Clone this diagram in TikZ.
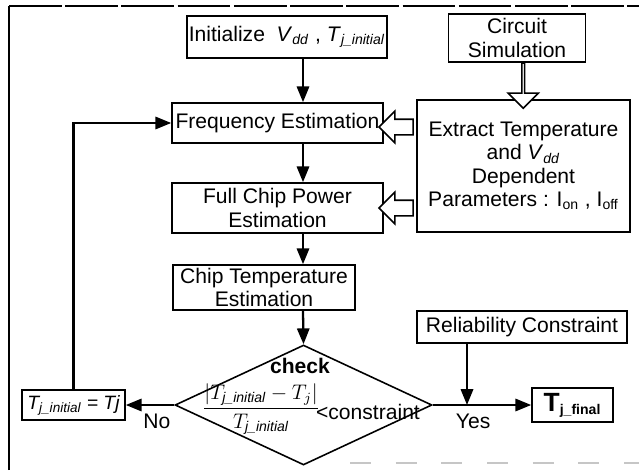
\documentclass[tikz,border=0pt]{standalone}
\usepackage{amsmath}
\usepackage{fontspec}
\setmainfont{Liberation Sans}
\usetikzlibrary{arrows.meta,calc,positioning,shapes.geometric,shapes.arrows}

\newcommand{\mainsize}{\fontsize{12}{13.3}\selectfont}
\newcommand{\Vdd}{\textit{V}\textsubscript{\textit{dd}}}
\newcommand{\Tjinit}{\textit{T}\textsubscript{\textit{j\_initial}}}

\tikzset{
  box/.style={draw,line width=0.9pt,align=center,inner sep=1pt},
  flow/.style={-{Triangle[length=9pt,width=7pt]},line width=1.3pt},
  fatarrow/.style={single arrow,draw,line width=0.9pt,fill=white,inner xsep=0pt,inner ysep=0.14cm,
    single arrow head extend=0.16cm,minimum width=0.6cm},
}

\begin{document}
\begin{tikzpicture}[x=0.02cm,y=-0.02cm,line join=miter,font=\mainsize]
\useasboundingbox (0,0) rectangle (639,470);
% --- scan frame
\draw[line width=0.9pt] (9,470) -- (9,6);
\draw[line width=0.8pt,dash pattern=on 30pt off 2pt] (9,6) -- (639,6);
\draw[gray!45,line width=0.8pt,dash pattern=on 12pt off 14pt] (350,463) -- (639,463);
% --- main column
\coordinate (col) at (303,0);
\node[box,minimum width=3.88cm,minimum height=0.84cm] (init) at (287,37) {Initialize \ \Vdd\ , \Tjinit};
\node[box,minimum width=4.22cm,minimum height=0.8cm] (freq) at (277.5,123) {Frequency Estimation};
\node[box,minimum width=4.22cm,minimum height=1.0cm] (power) at (277.5,208) {Full Chip Power\\Estimation};
\node[box,minimum width=3.64cm,minimum height=0.9cm] (temp) at (264,287.5) {Chip Temperature\\Estimation};
\node[draw,diamond,line width=0.9pt,inner sep=0pt,minimum width=5.14cm,minimum height=2.4cm] (dia) at (303.5,405) {};
\node[font=\mainsize\bfseries] (chk) at (300,366) {check};
\node[inner sep=0pt] (frac) at (261,409) {$\displaystyle\frac{\left|T_{\textit{j\_initial}}-T_j\right|}{T_{\textit{j\_initial}}}$};
\node[inner sep=0pt] (cons) at (368,412) {<constraint};
% --- right column
\node[box,minimum width=2.74cm,minimum height=0.96cm] (circ) at (517,38) {Circuit\\Simulation};
\node[box,minimum width=4.26cm,minimum height=2.64cm] (extr) at (523.5,166) {Extract Temperature\\and \Vdd\\Dependent\\Parameters : I\textsubscript{on} , I\textsubscript{off}};
\node[box,minimum width=4.2cm,minimum height=0.64cm] (rel) at (522,327) {Reliability Constraint};
\node[box,minimum width=1.62cm,minimum height=0.68cm] (final) at (572.5,405) {{\bfseries\fontsize{15}{15}\selectfont T}\textsubscript{\bfseries j\_final}};
% --- left
\node[box,minimum width=2.06cm,minimum height=0.6cm,font=\fontsize{11}{12}\selectfont\itshape] (tinit) at (73.5,405) {\Tjinit\ = Tj};
% --- hollow arrows
\node[fatarrow,minimum height=0.9cm,shape border rotate=270] (simarr) at ($(circ.south)!0.5!(extr.north)+(3,4)$) {};
\node[fatarrow,minimum height=0.68cm,shape border rotate=180] (farr) at ($(extr.west |- 0,127)!0.5!(freq.east |- 0,127)$) {};
\node[fatarrow,minimum height=0.68cm,shape border rotate=180] (parr) at ($(extr.west |- power)!0.5!(power.east)$) {};
% --- flow arrows
\draw[flow] (init.south -| col) -- (freq.north -| col);
\draw[flow] (freq.south -| col) -- (power.north -| col);
\draw[flow] (power.south -| col) -- (temp.north -| col);
\draw[flow] (temp.south -| col) -- (dia.north);
\draw[flow] (dia.west) -- node[below=1pt,pos=0.36] {No} (tinit.east);
\draw[flow] (dia.east) -- node[below=1pt,pos=0.41] {Yes} (final.west);
\coordinate (yesj) at (467,405);
\draw[flow] (rel.south -| yesj) -- (yesj);
\draw[flow] (tinit.north) |- (freq.west);
\end{tikzpicture}
\end{document}
